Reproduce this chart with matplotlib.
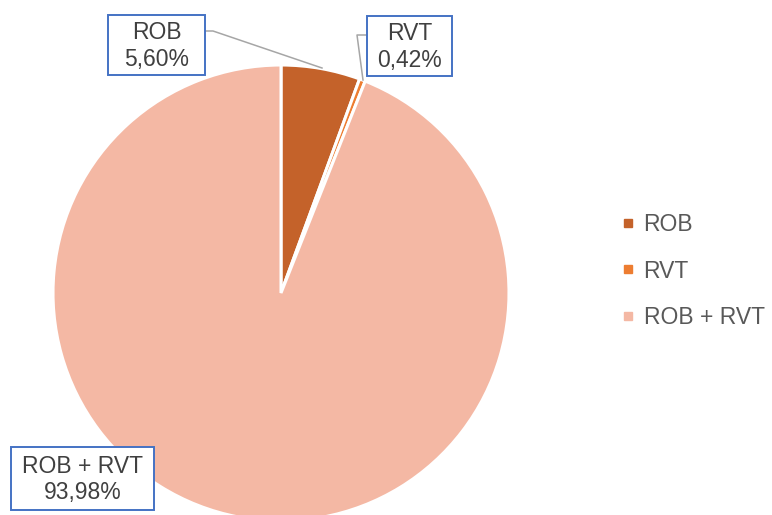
import matplotlib.pyplot as plt
from matplotlib.lines import Line2D
from matplotlib.patches import Rectangle

plt.rcParams['font.family'] = ['Liberation Sans', 'DejaVu Sans']

# data
categories = ['ROB', 'RVT', 'ROB + RVT']
shares = [5.60, 0.42, 93.98]
colors = ['#C4622A', '#ED7D31', '#F4B8A4']
label_txt = ['ROB\n5,60%', 'RVT\n0,42%', 'ROB + RVT\n93,98%']

W, H = 772, 515
fig = plt.figure(figsize=(W / 100, H / 100), dpi=100)
ax = fig.add_axes([0, 0, 1, 1])

cx, cy, r = 281, H - 293, 228
ax.pie(shares, colors=colors, startangle=90, counterclock=False,
       center=(cx, cy), radius=r, frame=True,
       wedgeprops=dict(edgecolor='white', linewidth=2.2))
ax.set_xlim(0, W)
ax.set_ylim(0, H)
ax.set_aspect('equal')
ax.axis('off')

# leader lines
ax.plot([205, 213, 322], [H - 31, H - 31, H - 68], color='#A6A6A6', lw=1.1)
ax.plot([367, 357, 363], [H - 35, H - 35, H - 80], color='#A6A6A6', lw=1.1)

# data label boxes (x0, y0 top, x1, y1 bottom in pixels)
boxes = [(108, 15, 205, 75), (367, 16, 452, 76), (11, 447, 154, 510)]
for (x0, y0, x1, y1), t in zip(boxes, label_txt):
    ax.add_patch(Rectangle((x0, H - y1), x1 - x0, y1 - y0, fc='white',
                           ec='#4472C4', lw=1.4, zorder=3))
    ax.text((x0 + x1) / 2, H - (y0 + y1) / 2 - 1, t, ha='center', va='center',
            fontsize=16.5, color='#404040', linespacing=1.2, zorder=4)

# legend
handles = [Line2D([], [], marker='s', ls='', color=c, markersize=5.5) for c in colors]
leg = ax.legend(handles, categories, loc='center left',
                bbox_to_anchor=(600 / W, 1 - 271 / H), frameon=False,
                fontsize=16.5, handlelength=0.6, handletextpad=0.4,
                labelspacing=1.03, labelcolor='#595959')

fig.savefig('out.png', dpi=100)
